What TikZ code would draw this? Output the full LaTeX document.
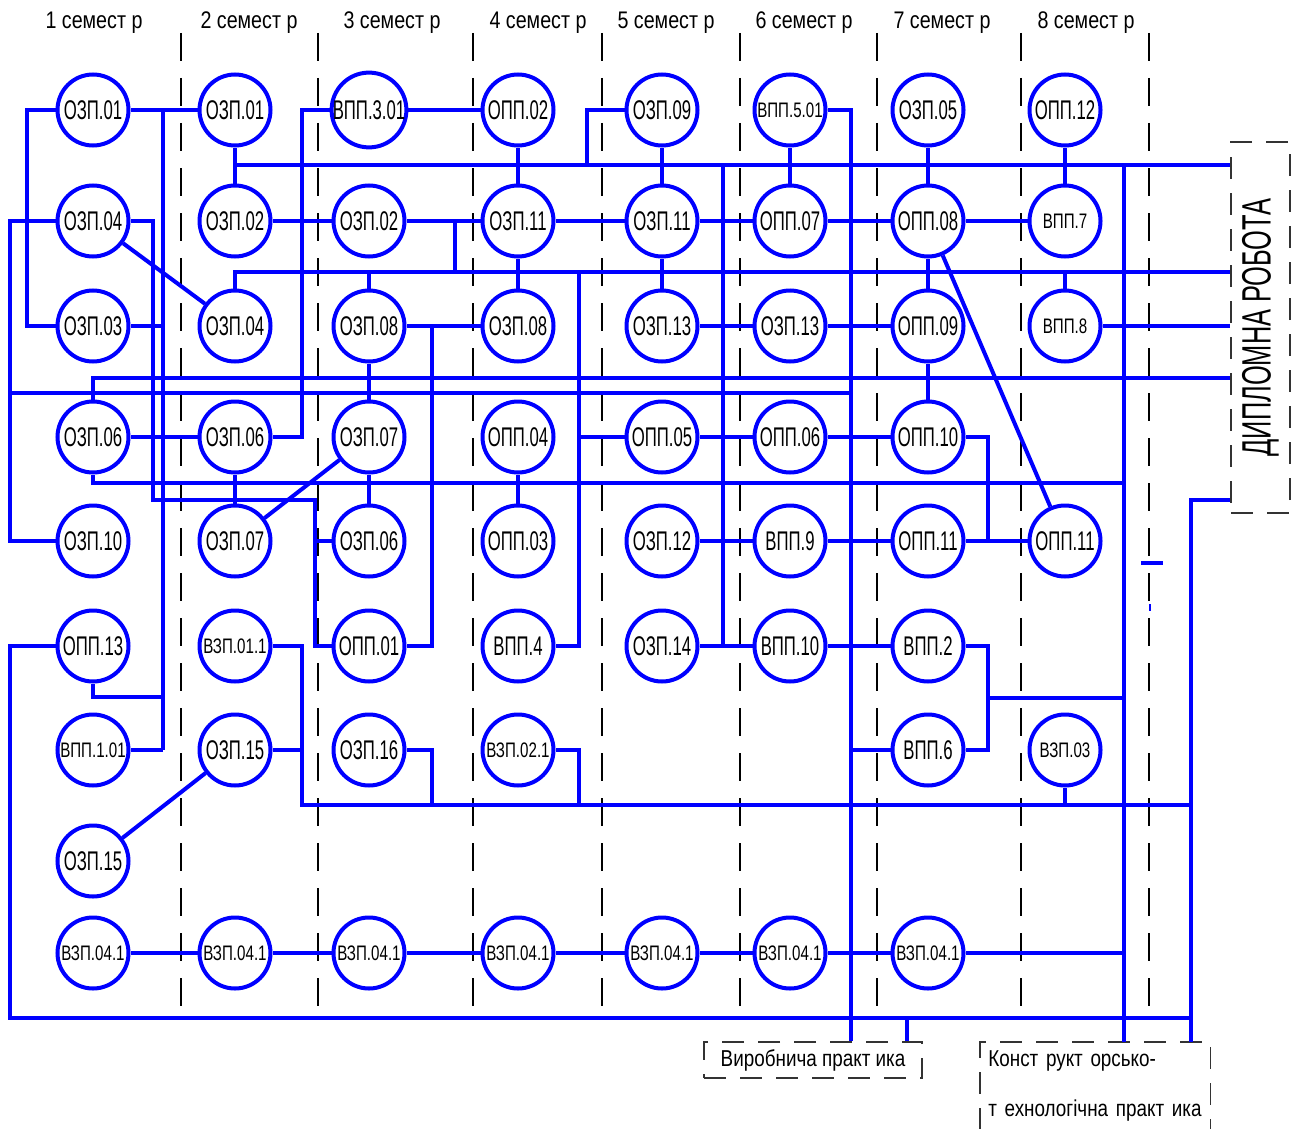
\documentclass[tikz,border=0pt]{standalone}
\usepackage{fontspec}
\usepackage{graphicx}
\setmainfont{Liberation Sans}
\newfontfamily\narrowA[FakeStretch=0.62]{Liberation Sans}
\newfontfamily\narrowB[FakeStretch=0.72]{Liberation Sans}
\newfontfamily\narrowC[FakeStretch=0.82]{Liberation Sans}

\begin{document}
\begin{tikzpicture}[x=0.5pt, y=-0.5pt,
    link/.style={blue, line width=2pt},
    disc/.style={circle, draw=blue, line width=2pt, minimum size=35.5pt, inner sep=0pt, fill=white},
    lb/.style={font=\narrowA\fontsize{13.5}{14}\selectfont},
    ls/.style={font=\narrowB\fontsize{10.5}{11}\selectfont},
    sem/.style={font=\narrowC\fontsize{12}{13}\selectfont},
    sep/.style={black, line width=0.6pt, dash pattern=on 14pt off 8.5pt},
    dbox/.style={draw=black!80, line width=0.6pt, dash pattern=on 11pt off 7pt, inner sep=0pt}]
    \useasboundingbox (0,0) rectangle (1295,1129);

    % semesters
    \foreach \x in {181,318,473,602,740,877,1021,1149}
      \draw[sep] (\x,33) -- (\x,1012);
    \foreach \i/\x in {1/94,2/249,3/392,4/538,5/666,6/804,7/942,8/1086}
      \node[sem] (sem\i) at (\x,23) {\i\ семест р};

    % disciplines
    \foreach \c/\r/\t/\f in {
      1/1/ОЗП.01/lb, 1/2/ОЗП.04/lb, 1/3/ОЗП.03/lb, 1/4/ОЗП.06/lb, 1/5/ОЗП.10/lb,
      1/6/ОПП.13/lb, 1/7/ВПП.1.01/ls, 1/8/ОЗП.15/lb, 1/9/ВЗП.04.1/ls,
      2/1/ОЗП.01/lb, 2/2/ОЗП.02/lb, 2/3/ОЗП.04/lb, 2/4/ОЗП.06/lb, 2/5/ОЗП.07/lb,
      2/6/ВЗП.01.1/ls, 2/7/ОЗП.15/lb, 2/9/ВЗП.04.1/ls,
      3/1/ВПП.3.01/lb, 3/2/ОЗП.02/lb, 3/3/ОЗП.08/lb, 3/4/ОЗП.07/lb, 3/5/ОЗП.06/lb,
      3/6/ОПП.01/lb, 3/7/ОЗП.16/lb, 3/9/ВЗП.04.1/ls,
      4/1/ОПП.02/lb, 4/2/ОЗП.11/lb, 4/3/ОЗП.08/lb, 4/4/ОПП.04/lb, 4/5/ОПП.03/lb,
      4/6/ВПП.4/lb, 4/7/ВЗП.02.1/ls, 4/9/ВЗП.04.1/ls,
      5/1/ОЗП.09/lb, 5/2/ОЗП.11/lb, 5/3/ОЗП.13/lb, 5/4/ОПП.05/lb, 5/5/ОЗП.12/lb,
      5/6/ОЗП.14/lb, 5/9/ВЗП.04.1/ls,
      6/1/ВПП.5.01/ls, 6/2/ОПП.07/lb, 6/3/ОЗП.13/lb, 6/4/ОПП.06/lb, 6/5/ВПП.9/lb,
      6/6/ВПП.10/lb, 6/9/ВЗП.04.1/ls,
      7/1/ОЗП.05/lb, 7/2/ОПП.08/lb, 7/3/ОПП.09/lb, 7/4/ОПП.10/lb, 7/5/ОПП.11/lb,
      7/6/ВПП.2/lb, 7/7/ВПП.6/lb, 7/9/ВЗП.04.1/ls,
      8/1/ОПП.12/lb, 8/2/ВПП.7/ls, 8/3/ВПП.8/ls, 8/5/ОПП.11/lb, 8/7/ВЗП.03/ls} {
      \pgfmathsetmacro\xx{{93,235,369,518,662,790,928,1065}[\c-1]}
      \pgfmathsetmacro\yy{{110,221,326,437,541,646,750,861,953}[\r-1]}
      \node[disc, \f] (n\c\r) at (\xx,\yy) {\t};
    }

    % final works and practices
    \node[dbox, minimum width=29.5pt, minimum height=185.5pt] (dipl) at (1260.5,327.5)
      {\rotatebox{90}{\narrowA\fontsize{20.5}{21}\selectfont ДИПЛОМНА РОБОТА}};
    \node[dbox, minimum width=109pt, minimum height=18pt, font=\narrowC\fontsize{11.5}{12}\selectfont]
      (vyrob) at (813,1060) {Виробнича практ ика};
    \node[anchor=north west, minimum width=115pt, minimum height=43.5pt, text width=107pt,
      inner xsep=4pt, inner ysep=0pt, align=left, font=\narrowC\fontsize{11.5}{25}\selectfont]
      (konstr) at (980,1042) {Конст рукт орсько-\\т ехнологічна практ ика};
    \draw[dbox] (konstr.south west) |- (konstr.north east) -- (konstr.south east);

    % trunks and buses
    \foreach \x in {10,27,153,163,302,315,432,455,579,587,723,851,907,988,1124,1191}
      \coordinate (t\x) at (\x,0);
    \foreach \y in {165,272,378,393,483,500,697,698,805,1018}
      \coordinate (b\y) at (0,\y);

    % row 1
    \draw[link] (n11.east) -- (n21.west);
    \draw[link] (n11.west) -| (t27 |- n13.west) -- (n13.west);
    \draw[link] (t163 |- n11.east) -- (t163 |- n17.east);
    \draw[link] (n13.east) -- (n13.east -| t163);
    \draw[link] (n17.east) -- (n17.east -| t163);
    \draw[link] (n16.south) |- (t163 |- b697);
    \draw[link] (n31.west) -| (t302 |- n24.east) -- (n24.east);
    \draw[link] (n31.east) -- (n41.west);
    \draw[link] (n51.west) -| (t587 |- b165);
    \draw[link] (n61.east) -| (t851 |- vyrob.north);
    \foreach \c in {2,4,5,6,7,8}
      \draw[link] (n\c1.south) -- (n\c2.north);

    % buses to the diploma work
    \draw[link] (n21.south |- b165) -- (dipl.west |- b165);
    \draw[link] (n23.north) |- (dipl.west |- b272);
    \draw[link] (n14.north) |- (dipl.west |- b378);
    \draw[link] (n83.east) -- (dipl.west |- n83.east);
    \draw[link] (dipl.west |- b500) -| (t1191 |- konstr.north);
    \draw[link] (n33.north) -- (n33.north |- b272);
    \draw[link] (n83.north) -- (n83.north |- b272);
    \draw[link] (t723 |- b165) -- (t723 |- n66.west);
    \draw[link] (t1124 |- b165) -- (t1124 |- konstr.north);
    \draw[link] (t10 |- b393) -- (t851 |- b393);
    \draw[link] (n14.south) |- (t1124 |- b483);

    % row 2
    \draw[link] (n12.west) -| (t10 |- n15.west) -- (n15.west);
    \draw[link] (n12.east) -| (t153 |- b500) -| (t315 |- n36.west) -- (n36.west);
    \draw[link] (n35.west) -- (n35.west -| t315);
    \draw[link] (n12) -- (n23);
    \draw[link] (n22.east) -- (n32.west);
    \draw[link] (n32.east) -- (n42.west);
    \draw[link] (t455 |- n32.east) -- (t455 |- b272);
    \draw[link] (n42.east) -- (n52.west) (n52.east) -- (n62.west)
      (n62.east) -- (n72.west) (n72.east) -- (n82.west);
    \draw[link] (n42.south) -- (n43.north);
    \draw[link] (n52.south) -- (n53.north);
    \draw[link] (n72.south) -- (n73.north);
    \draw[link] (n72) -- (n85);

    % row 3
    \draw[link] (n33.east) -- (n43.west);
    \draw[link] (t432 |- n33.east) |- (n36.east);
    \draw[link] (n33.south) -- (n34.north);
    \draw[link] (n53.east) -- (n63.west) (n63.east) -- (n73.west);
    \draw[link] (n73.south) -- (n74.north);

    % row 4
    \draw[link] (n14.east) -- (n24.west);
    \draw[link] (n24.south) -- (n25.north);
    \draw[link] (n34) -- (n25);
    \draw[link] (n34.south) -- (n35.north);
    \draw[link] (n44.south) -- (n45.north);
    \draw[link] (n46.east) -| (t579 |- b272);
    \draw[link] (t579 |- n54.west) -- (n54.west);
    \draw[link] (n54.east) -- (n64.west) (n64.east) -- (n74.west);
    \draw[link] (n74.east) -| (t988 |- n75.east);
    \draw[link] (n75.east) -- (n85.west);

    % row 5
    \draw[link] (n55.east) -- (n65.west) (n65.east) -- (n75.west);

    % rows 6-8
    \draw[link] (n16.west) -| (t10 |- b1018) -- (t1191 |- b1018);
    \draw[link] (n26.east) -| (t302 |- b805) -- (t1191 |- b805);
    \draw[link] (n27.east) -- (n27.east -| t302);
    \draw[link] (n37.east) -| (t432 |- b805);
    \draw[link] (n47.east) -| (t579 |- b805);
    \draw[link] (n87.south) -- (n87.south |- b805);
    \draw[link] (n56.east) -- (n66.west) (n66.east) -- (n76.west);
    \draw[link] (n76.east) -| (t988 |- n77.east) -- (n77.east);
    \draw[link] (t988 |- b698) -- (t1124 |- b698);
    \draw[link] (t851 |- n77.west) -- (n77.west);
    \draw[link] (n27) -- (n18);

    % row 9
    \foreach \a/\b in {1/2,2/3,3/4,4/5,5/6,6/7}
      \draw[link] (n\a9.east) -- (n\b9.west);
    \draw[link] (n79.east) -- (n79.east -| t1124);
    \draw[link] (t907 |- b1018) -- (t907 |- vyrob.north);

    \draw[link] (1141,563) -- (1163,563);
    \draw[blue, line width=0.6pt] (1150,604) -- (1150,611);
\end{tikzpicture}
\end{document}
